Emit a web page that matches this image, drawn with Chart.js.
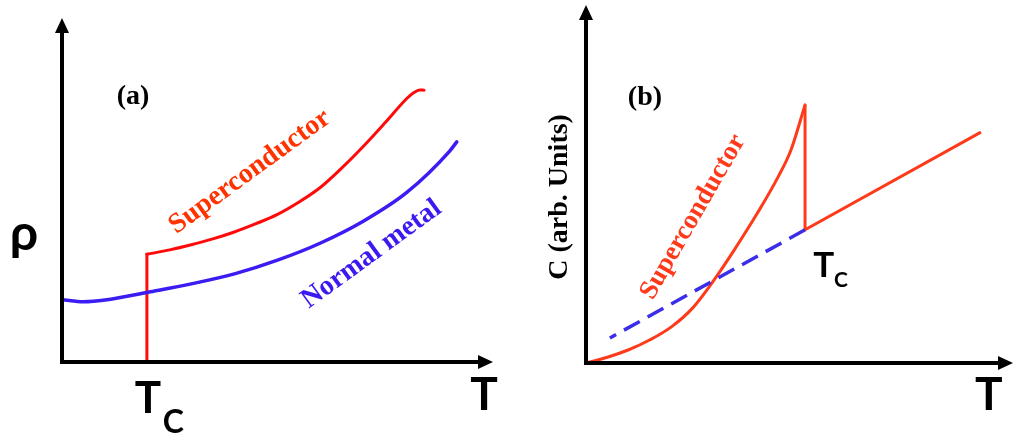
<!DOCTYPE html>
<html>
<head>
<meta charset="utf-8">
<script src="https://cdn.jsdelivr.net/npm/chart.js@4/dist/chart.umd.min.js"></script>
<style>
  html, body { margin: 0; padding: 0; background: #fff; }
  #wrap { position: relative; width: 1013px; height: 433px; overflow: hidden; }
  #chartA { position: absolute; left: 0; top: 0; }
  #chartB { position: absolute; left: 507px; top: 0; }
</style>
</head>
<body>
<div id="wrap">
  <canvas id="chartA" width="507" height="433"></canvas>
  <canvas id="chartB" width="506" height="433"></canvas>
</div>
<script>
// (a) resistivity vs T  (arbitrary units, 0..100 on both axes)
const rhoSupT  = [19.7, 25, 30, 35, 40, 45, 50, 55, 60, 65, 70, 75, 80, 81.5, 83, 84];
const rhoSup   = [31.3, 32.6, 34.1, 35.8, 37.8, 40.2, 42.9, 46.5, 50.8, 56.5, 62.8, 69.6, 76.6, 78.2, 79.1, 79.0];
const rhoJumpT = [19.7, 19.7];
const rhoJump  = [0, 31.3];
const rhoNormT = [0, 5, 10, 20, 30, 40, 50, 60, 70, 80, 90, 91.6];
const rhoNorm  = [18.1, 17.5, 18.0, 20.3, 22.7, 25.6, 29.6, 34.6, 41.0, 49.3, 61.4, 64.0];

// (b) heat capacity vs T
const capSupT  = [0, 5, 10, 15, 20, 25, 30, 35, 40, 45, 48, 51.3];
const capSup   = [0, 1.6, 3.7, 6.5, 10.1, 15.4, 23.2, 32.1, 41.6, 52.0, 59.5, 72.1];
const capJumpT = [51.3, 51.3, 92.5];
const capJump  = [72.1, 37.2, 64.5];
const capNormT = [51.3, 5.6];
const capNorm  = [37.2, 7.0];

const RED_A = '#ff0a0a';
const RED_B = '#ff3a1a';
const BLUE = '#3b1cf2';
const SERIF = '"Liberation Serif", "Times New Roman", serif';
const SANS = 'Lato, "Open Sans", sans-serif';

function pts(xs, ys) {
    return xs.map((x, i) => ({ x: x, y: ys[i] }));
}

// black axes with arrow heads
const axisArrows = {
    id: 'axisArrows',
    afterDatasetsDraw(chart) {
        const ctx = chart.ctx;
        const a = chart.chartArea;
        ctx.save();
        ctx.strokeStyle = '#000';
        ctx.fillStyle = '#000';
        ctx.lineWidth = 4;
        ctx.lineJoin = 'miter';
        ctx.beginPath();
        ctx.moveTo(a.left, a.top + 10);
        ctx.lineTo(a.left, a.bottom);
        ctx.lineTo(a.right - 10, a.bottom);
        ctx.stroke();

        ctx.beginPath();
        ctx.moveTo(a.left, a.top);
        ctx.lineTo(a.left - 7, a.top + 15);
        ctx.lineTo(a.left + 7, a.top + 15);
        ctx.closePath();
        ctx.fill();

        ctx.beginPath();
        ctx.moveTo(a.right, a.bottom);
        ctx.lineTo(a.right - 15, a.bottom - 7);
        ctx.lineTo(a.right - 15, a.bottom + 7);
        ctx.closePath();
        ctx.fill();
        ctx.restore();
    }
};

// free text placed in data units
const notes = {
    id: 'notes',
    afterDraw(chart, args, opts) {
        const ctx = chart.ctx;
        const xs = chart.scales.x, ys = chart.scales.y;
        (opts.items || []).forEach(n => {
            ctx.save();
            ctx.translate(xs.getPixelForValue(n.x), ys.getPixelForValue(n.y));
            if (n.angle) ctx.rotate(n.angle * Math.PI / 180);
            ctx.font = n.font;
            ctx.fillStyle = n.color || '#000';
            ctx.textAlign = n.align || 'center';
            ctx.textBaseline = n.baseline || 'middle';
            ctx.fillText(n.text, 0, 0);
            ctx.restore();
        });
    }
};

function lineSet(data, color, width, extra) {
    return Object.assign({
        data: data,
        borderColor: color,
        borderWidth: width,
        pointRadius: 0,
        fill: false,
        clip: false,
        tension: 0
    }, extra || {});
}

const smooth = { cubicInterpolationMode: 'monotone', borderCapStyle: 'round' };

function baseOptions(padding, items) {
    return {
        responsive: false,
        animation: false,
        layout: { padding: padding },
        scales: {
            x: { type: 'linear', min: 0, max: 100, display: false },
            y: { type: 'linear', min: 0, max: 100, display: false }
        },
        plugins: {
            legend: { display: false },
            tooltip: { enabled: false },
            notes: { items: items }
        }
    };
}

new Chart(document.getElementById('chartA'), {
    type: 'line',
    data: {
        datasets: [
            lineSet(pts(rhoNormT, rhoNorm), BLUE, 3.5, smooth),
            lineSet(pts(rhoJumpT, rhoJump), RED_A, 3, { borderCapStyle: 'square' }),
            lineSet(pts(rhoSupT, rhoSup), RED_A, 3, smooth)
        ]
    },
    options: baseOptions({ left: 62, top: 18, right: 14, bottom: 71 }, [
        { text: '(a)', x: 16.5, y: 77.2, font: 'bold 28px ' + SERIF },
        { text: 'Superconductor', x: 43.6, y: 55.3, angle: -36, font: 'bold 28px ' + SERIF, color: '#ff3300' },
        { text: 'Normal metal', x: 71.8, y: 31.3, angle: -36, font: 'bold 28px ' + SERIF, color: '#3a1af0' },
        { text: 'ρ', x: -8.8, y: 32.7, font: 'bold 50px ' + SANS, baseline: 'alphabetic' },
        { text: 'T', x: 16.9, y: -14.9, font: 'bold 44px ' + SANS, align: 'left', baseline: 'alphabetic' },
        { text: 'C', x: 23.4, y: -20.5, font: 'bold 32px ' + SANS, align: 'left', baseline: 'alphabetic' },
        { text: 'T', x: 94.7, y: -14.0, font: 'bold 46px ' + SANS, align: 'left', baseline: 'alphabetic' }
    ]),
    plugins: [axisArrows, notes]
});

new Chart(document.getElementById('chartB'), {
    type: 'line',
    data: {
        datasets: [
            lineSet(pts(capNormT, capNorm), '#3b2ee8', 3.5, { borderDash: [18, 9] }),
            lineSet(pts(capSupT, capSup), RED_B, 3, smooth),
            lineSet(pts(capJumpT, capJump), RED_B, 3, { borderJoinStyle: 'miter' })
        ]
    },
    options: baseOptions({ left: 79, top: 5, right: 0, bottom: 70 }, [
        { text: '(b)', x: 13.8, y: 74.0, font: 'bold 28px ' + SERIF },
        { text: 'Superconductor', x: 25.1, y: 40.8, angle: -60, font: 'bold 27px ' + SERIF, color: RED_B },
        { text: 'C (arb. Units)', x: -6.1, y: 46.4, angle: -90, font: 'bold 28px ' + SERIF },
        { text: 'T', x: 53.2, y: 24.0, font: 'bold 35px ' + SANS, align: 'left', baseline: 'alphabetic' },
        { text: 'C', x: 58.1, y: 21.2, font: 'bold 21px ' + SANS, align: 'left', baseline: 'alphabetic' },
        { text: 'T', x: 91.1, y: -13.1, font: 'bold 46px ' + SANS, align: 'left', baseline: 'alphabetic' }
    ]),
    plugins: [axisArrows, notes]
});
</script>
</body>
</html>
